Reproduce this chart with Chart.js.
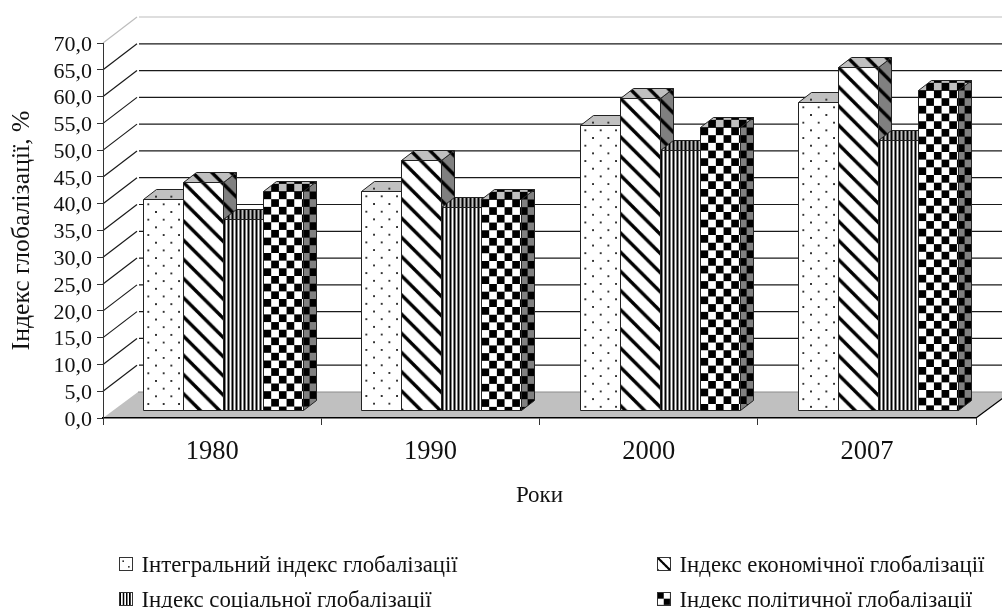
<!DOCTYPE html>
<html>
<head>
<meta charset="utf-8">
<script src="https://cdn.jsdelivr.net/npm/chart.js@4"></script>
<style>
  html, body { margin: 0; padding: 0; background: #fff; }
  #wrap { width: 1002px; height: 608px; overflow: hidden; }
</style>
</head>
<body>
<div id="wrap"><canvas id="chart" width="1002" height="608"></canvas></div>
<script>
var YEARS = ['1980', '1990', '2000', '2007'];
var INTEGRAL = [39.4, 40.9, 53.2, 57.5];
var ECONOMIC = [42.6, 46.7, 58.4, 64.2];
var SOCIAL = [35.8, 37.9, 48.7, 50.4];
var POLITICAL = [40.9, 39.4, 53.0, 59.9];
var SERIES_LABELS = [
  'Інтегральний індекс глобалізації',
  'Індекс економічної глобалізації',
  'Індекс соціальної глобалізації',
  'Індекс політичної глобалізації'
];
var Y_TICKS = ['0,0', '5,0', '10,0', '15,0', '20,0', '25,0', '30,0', '35,0', '40,0', '45,0', '50,0', '55,0', '60,0', '65,0', '70,0'];

var FONT = '"Liberation Serif", serif';
// depth of the box (wall shift) and of each bar
var WALL_DX = 35, WALL_DY = -26;
var BAR_SHIFT_DX = 11, BAR_SHIFT_DY = -8;
var BAR_DX = 13, BAR_DY = -10;

/** Tile for a fill pattern; bg is white, light grey or dark grey depending on the face. */
function makeTile(kind, bg) {
  var size = { dots: 16, diag: 20, lines: 4, checks: 16 }[kind];
  var c = document.createElement('canvas');
  c.width = c.height = size;
  var g = c.getContext('2d');
  g.fillStyle = bg;
  g.fillRect(0, 0, size, size);
  g.fillStyle = '#000';
  g.strokeStyle = '#000';
  if (kind === 'dots') {
    g.fillStyle = '#333';
    g.fillRect(4, 4, 2, 2);
    g.fillRect(12, 12, 2, 2);
  } else if (kind === 'diag') {
    g.lineWidth = 3.5;
    [-20, 0, 20].forEach(function (o) {
      g.beginPath();
      g.moveTo(o - 2, -2);
      g.lineTo(o + 22, 22);
      g.stroke();
    });
  } else if (kind === 'lines') {
    g.fillRect(0, 0, 2, size);
  } else {
    g.fillRect(0, 0, 8, 8);
    g.fillRect(8, 8, 8, 8);
  }
  return c;
}

function pattern(ctx, kind, bg) {
  var p = ctx.createPattern(makeTile(kind, bg), 'repeat');
  if (kind !== 'lines') p.setTransform(new DOMMatrix().scale(0.96));
  return p;
}

var canvas = document.getElementById('chart');
var ctx2d = canvas.getContext('2d');
var KINDS = ['dots', 'diag', 'lines', 'checks'];
var FRONT = KINDS.map(function (k) { return pattern(ctx2d, k, '#fff'); });
var TOP = KINDS.map(function (k) { return pattern(ctx2d, k, '#c0c0c0'); });
var SIDE = KINDS.map(function (k) { return pattern(ctx2d, k, '#808080'); });

function poly(ctx, pts, fill, stroke) {
  ctx.beginPath();
  pts.forEach(function (p, i) {
    if (i === 0) ctx.moveTo(p[0], p[1]); else ctx.lineTo(p[0], p[1]);
  });
  ctx.closePath();
  if (fill) { ctx.fillStyle = fill; ctx.fill(); }
  if (stroke) { ctx.strokeStyle = stroke; ctx.lineWidth = 1; ctx.stroke(); }
}

/** Floor and back wall with the diagonal grid lines. */
var wallPlugin = {
  id: 'wall',
  beforeDraw: function (chart) {
    var c = chart.ctx, a = chart.chartArea, y = chart.scales.y;
    var y0 = y.getPixelForValue(0);
    c.save();
    y.ticks.forEach(function (t) {
      if (t.value === 0) return;
      var py = y.getPixelForValue(t.value);
      var lineColor = t.value === 70 ? '#bdbdbd' : '#1a1a1a';
      c.beginPath();
      c.moveTo(a.left, py);
      c.lineTo(a.left + WALL_DX - 1, py + WALL_DY);
      c.strokeStyle = lineColor;
      c.lineWidth = 1.2;
      c.stroke();
      c.beginPath();
      c.moveTo(a.left + WALL_DX + 1, py + WALL_DY);
      c.lineTo(a.right + WALL_DX, py + WALL_DY);
      c.strokeStyle = lineColor;
      c.stroke();
    });
    poly(c, [[a.left, y0], [a.left + WALL_DX, y0 + WALL_DY], [a.right + WALL_DX, y0 + WALL_DY], [a.right, y0]], '#c0c0c0');
    c.beginPath();
    c.moveTo(a.left + WALL_DX, y0 + WALL_DY);
    c.lineTo(a.right + WALL_DX, y0 + WALL_DY);
    c.strokeStyle = '#8c8c8c';
    c.lineWidth = 1.2;
    c.stroke();
    c.beginPath();
    c.moveTo(a.right, y0);
    c.lineTo(a.right + WALL_DX, y0 + WALL_DY);
    c.strokeStyle = '#000';
    c.stroke();
    c.restore();
  }
};

/** Draws the bars as boxes, left to right, so each one overlaps the previous side face. */
var boxPlugin = {
  id: 'boxes',
  beforeDatasetDraw: function () { return false; },
  afterDatasetsDraw: function (chart) {
    var c = chart.ctx;
    YEARS.forEach(function (year, i) {
      chart.data.datasets.forEach(function (ds, di) {
        var bar = chart.getDatasetMeta(di).data[i];
        var w = Math.round(bar.width);
        var h = Math.round(bar.base - bar.y);
        var left = Math.round(bar.x - bar.width / 2 + BAR_SHIFT_DX);
        var bottom = Math.round(bar.base + BAR_SHIFT_DY);
        c.save();
        // origin at the bar's top left corner, patterns start from there
        c.translate(left + 0.5, bottom - h + 0.5);
        poly(c, [[w, 0], [w + BAR_DX, BAR_DY], [w + BAR_DX, h + BAR_DY], [w, h]], SIDE[di], '#222');
        poly(c, [[0, 0], [BAR_DX, BAR_DY], [w + BAR_DX, BAR_DY], [w, 0]], TOP[di], '#222');
        poly(c, [[0, 0], [w, 0], [w, h], [0, h]], FRONT[di], '#222');
        c.restore();
      });
    });
  }
};

/** Two column legend under the plot. */
var LEGEND_POS = [[119, 564], [657, 564], [119, 599], [657, 599]];
var LEGEND_TEXT_Y = [566, 566, 601, 601];
var SWATCH_SCALE = [0.75, 0.65, 0.8, 0.8];
var legendPlugin = {
  id: 'legend2col',
  afterDraw: function (chart) {
    var c = chart.ctx;
    chart.data.datasets.forEach(function (ds, di) {
      var p = LEGEND_POS[di];
      c.save();
      c.translate(p[0] + 0.5, p[1] - 6.5);
      c.save();
      c.beginPath();
      c.rect(0, 0, 13, 13);
      c.clip();
      c.scale(SWATCH_SCALE[di], SWATCH_SCALE[di]);
      c.fillStyle = FRONT[di];
      c.fillRect(0, 0, 40, 40);
      c.restore();
      c.strokeStyle = '#333';
      c.lineWidth = 1;
      c.strokeRect(0, 0, 13, 13);
      c.restore();
      c.fillStyle = '#111';
      c.font = '22.8px ' + FONT;
      c.textBaseline = 'middle';
      c.textAlign = 'left';
      c.fillText(ds.label, p[0] + 22.5, LEGEND_TEXT_Y[di]);
    });
  }
};

new Chart(canvas, {
  type: 'bar',
  data: {
    labels: YEARS,
    datasets: [INTEGRAL, ECONOMIC, SOCIAL, POLITICAL].map(function (vals, i) {
      return { label: SERIES_LABELS[i], data: vals, backgroundColor: FRONT[i], borderColor: '#000', borderWidth: 1 };
    })
  },
  options: {
    responsive: false,
    animation: false,
    layout: { padding: { top: 43, right: 26, bottom: 98, left: 0 } },
    datasets: { bar: { barPercentage: 1, categoryPercentage: 160 / 218.25 } },
    plugins: { legend: { display: false }, tooltip: { enabled: false } },
    scales: {
      x: {
        offset: true,
        afterFit: function (s) { s.height = 92; },
        border: { color: '#000', width: 1.5 },
        grid: { drawOnChartArea: false, tickLength: 7, tickColor: '#333', offset: true },
        ticks: { color: '#111', font: { family: FONT, size: 26.5 }, padding: 11, maxRotation: 0 },
        title: { display: true, text: 'Роки', color: '#111', font: { family: FONT, size: 23 }, padding: { top: 0, bottom: 0 } }
      },
      y: {
        min: 0,
        max: 70,
        afterFit: function (s) { s.width = 103; },
        border: { color: '#333', width: 1 },
        grid: { drawOnChartArea: false, tickLength: 6, tickColor: '#333' },
        ticks: {
          stepSize: 5,
          autoSkip: false,
          color: '#111',
          font: { family: FONT, size: 22 },
          padding: 5,
          labelOffset: 2,
          callback: function (v) { return Y_TICKS[v / 5]; }
        },
        title: { display: true, text: 'Індекс глобалізації, %', color: '#111', font: { family: FONT, size: 25.7 }, padding: { top: 7, bottom: 0 } }
      }
    }
  },
  plugins: [wallPlugin, boxPlugin, legendPlugin]
});
</script>
</body>
</html>
